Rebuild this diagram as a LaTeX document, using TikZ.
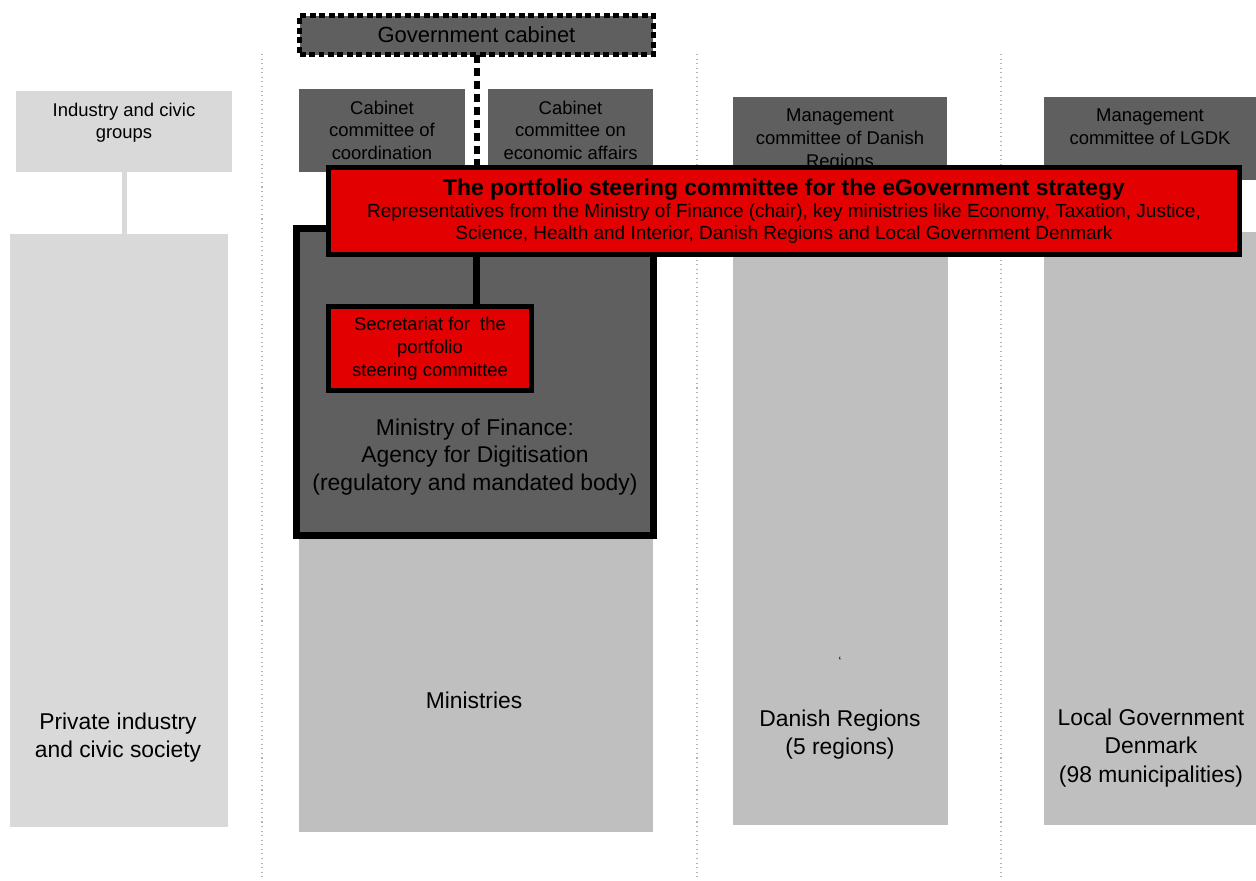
\documentclass[tikz,border=0pt]{standalone}
\usepackage{fontspec}
\setmainfont{Liberation Sans}
\usepackage{xcolor}
\usetikzlibrary{positioning}

\definecolor{darkbox}{HTML}{5F5F5F}
\definecolor{midbox}{HTML}{BFBFBF}
\definecolor{lightbox}{HTML}{D9D9D9}
\definecolor{steerred}{HTML}{E20000}
\definecolor{sepgray}{HTML}{B4B4B4}

\begin{document}
\begin{tikzpicture}[x=0.02cm, y=-0.02cm, line join=miter,
    box/.style={rectangle, inner sep=0pt, outer sep=0pt},
    toptext/.style={anchor=north, inner sep=2.5pt, yshift=-4pt, align=center, text=black,
        font=\fontsize{10.5}{13}\selectfont},
    bigtext/.style={align=center, inner sep=0pt, text=black,
        font=\fontsize{13}{16}\selectfont},
    redbox/.style={box, fill=steerred, draw=black, line width=0.1cm}]

    \useasboundingbox (0,0) rectangle (1256,880);

    % Column separators
    \foreach \sx in {262,697,1001}{
        \draw[sepgray, dotted, line width=0.6pt] (\sx,54) -- (\sx,880);
    }

    % Private industry column
    \node[box, fill=lightbox, minimum width=4.32cm, minimum height=1.62cm,
        label={[toptext]north:Industry and civic\\groups}] (indciv) at (124,131.5) {};
    \node[box, fill=lightbox, minimum width=4.36cm, minimum height=11.86cm] (private) at (119,530.5) {};
    \draw[lightbox, line width=0.1cm] (indciv.south) -- (indciv.south |- private.north);
    \node[bigtext] (private-txt) at (118,738) {Private industry\\and civic society};

    % Government column
    \node[box, fill=darkbox, minimum width=3.32cm, minimum height=1.66cm,
        label={[toptext]north:Cabinet\\committee of\\coordination}] (coord) at (382,130.5) {};
    \node[box, fill=darkbox, minimum width=3.30cm, minimum height=1.66cm,
        label={[toptext]north:Cabinet\\committee on\\economic affairs}] (econ) at (570.5,130.5) {};
    \node[box, fill=midbox, minimum width=7.08cm, minimum height=11.96cm] (ministries) at (476,533) {};
    \node[bigtext] (ministries-txt) at (474,700) {Ministries};
    \node[box, fill=darkbox, draw=black, line width=0.14cm,
        minimum width=7.14cm, minimum height=6.14cm] (agency) at (475,382) {};
    \node[bigtext, font=\fontsize{13}{15.6}\selectfont] (agency-txt) at (475,457)
        {Ministry of Finance:\\Agency for Digitisation\\(regulatory and mandated body)};
    \node[box, fill=darkbox, draw=black, dash pattern=on 3.4pt off 2pt, line width=0.1cm,
        minimum width=7.08cm, minimum height=0.78cm,
        font=\fontsize{12.5}{15}\selectfont] (gcab) at (476.5,35) {Government cabinet};

    % Regions column
    \node[box, fill=darkbox, minimum width=4.28cm, minimum height=1.66cm,
        label={[toptext]north:Management\\committee of Danish\\Regions}] (mgmt-reg) at (840,138.5) {};
    \node[box, fill=midbox, minimum width=4.30cm, minimum height=11.86cm] (regions) at (840.5,528.5) {};
    \node[bigtext] (regions-txt) at (840,735) {Danish Regions\\(5 regions)};
    \node[font=\fontsize{7}{8}\selectfont, inner sep=0pt] (stray) at (840,661) {‘};

    % Municipalities column
    \node[box, fill=darkbox, minimum width=4.24cm, minimum height=1.66cm,
        label={[toptext]north:Management\\committee of LGDK}] (mgmt-lgdk) at (1150,138.5) {};
    \node[box, fill=midbox, minimum width=4.24cm, minimum height=11.86cm] (lgdk) at (1150,528.5) {};
    \node[bigtext] (lgdk-txt) at (1151,748) {Local Government\\Denmark\\(98 municipalities)};

    % Steering committee
    \node[redbox, minimum width=18.22cm, minimum height=1.74cm, align=center, text=black,
        font=\fontsize{10.8}{12.5}\selectfont] (steer) at (784,211)
        {{\fontsize{13}{15}\selectfont\bfseries The portfolio steering committee for the eGovernment strategy}\\
         Representatives from the Ministry of Finance (chair), key ministries like Economy, Taxation, Justice,\\
         Science, Health and Interior, Danish Regions and Local Government Denmark};
    \node[redbox, minimum width=4.06cm, minimum height=1.68cm, align=center, text=black,
        font=\fontsize{10.5}{13}\selectfont] (secr) at (430,348.5)
        {Secretariat for\ \ the\\portfolio\\steering committee};

    % Links
    \draw[black, line width=0.12cm, dash pattern=on 5.1pt off 2.3pt]
        (gcab.south) -- (gcab.south |- steer.north);
    \draw[black, line width=0.14cm] (gcab.south |- steer.south) -- (gcab.south |- secr.north);

\end{tikzpicture}
\end{document}
